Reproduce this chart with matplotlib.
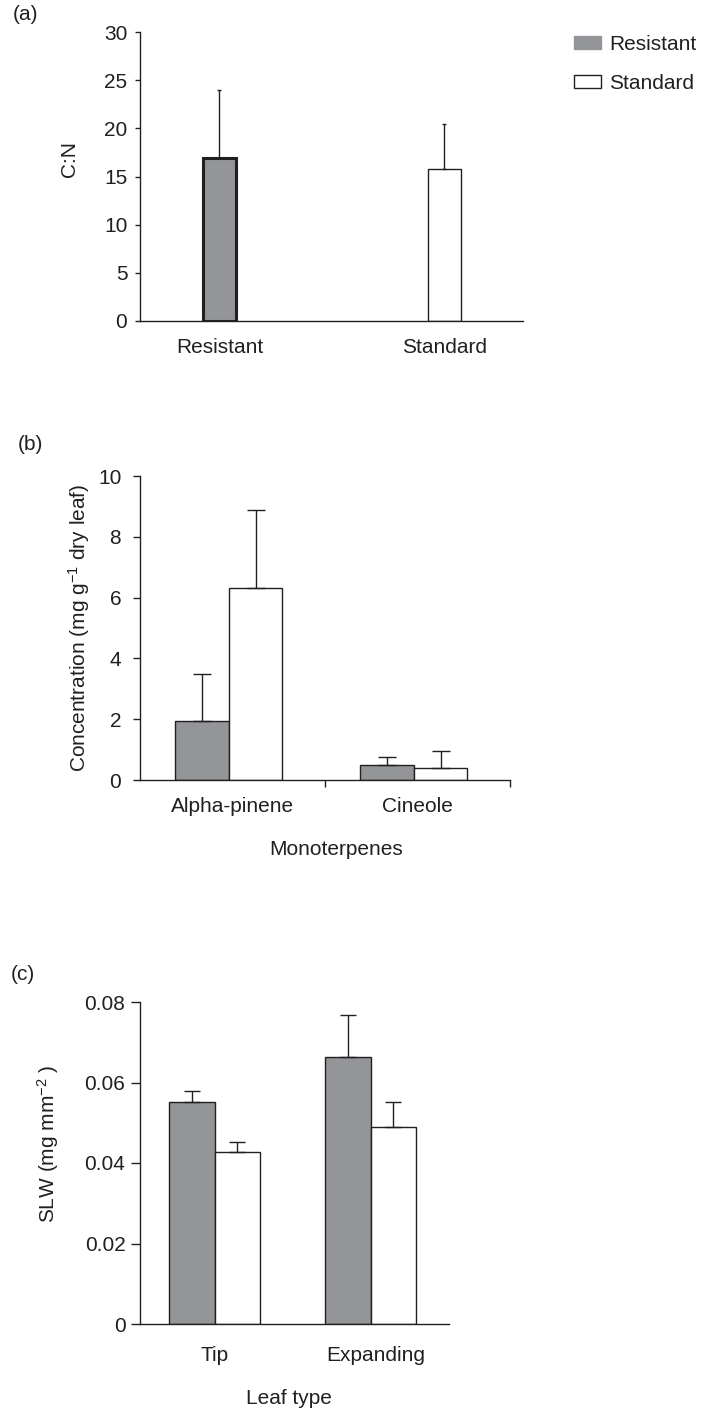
import numpy as np
import matplotlib.pyplot as plt
from matplotlib.patches import Patch

plt.rcParams['font.family'] = ['Liberation Sans', 'DejaVu Sans']
plt.rcParams['mathtext.fontset'] = 'custom'
plt.rcParams['mathtext.rm'] = 'Liberation Sans'
plt.rcParams['mathtext.it'] = 'Liberation Sans:italic'
plt.rcParams['font.size'] = 15

# -- dados
grupos = ['Resistant', 'Standard']

cn_media = [16.9, 15.8]
cn_erro = [7.1, 4.6]

mono_cat = ['Alpha-pinene', 'Cineole']
mono_res = [1.94, 0.49]
mono_res_erro = [1.55, 0.27]
mono_std = [6.32, 0.39]
mono_std_erro = [2.56, 0.56]

folha_cat = ['Tip', 'Expanding']
slw_res = [0.0552, 0.0663]
slw_res_erro = [0.0027, 0.0105]
slw_std = [0.0427, 0.0489]
slw_std_erro = [0.0025, 0.0063]

cinza = '#939598'
preto = '#231f20'
fs = 15

W, H = 714, 1409
fig = plt.figure(figsize=(W / 100, H / 100), dpi=100)


def eixo(x0, y_top, x1, y_bot):
    # posição em pixels -> fração da figura
    return fig.add_axes([x0 / W, 1 - y_bot / H, (x1 - x0) / W, (y_bot - y_top) / H])


def estilo(ax, tlen, tpad):
    for s in ['top', 'right']:
        ax.spines[s].set_visible(False)
    for s in ['left', 'bottom']:
        ax.spines[s].set_color(preto)
        ax.spines[s].set_linewidth(1.0)
    ax.tick_params(axis='y', direction='out', length=tlen, pad=tpad, width=1.0,
                   color=preto, labelcolor=preto, labelsize=fs)
    ax.tick_params(axis='x', which='major', length=0, labelcolor=preto, labelsize=fs)


# -- (a) C:N
ax1 = eixo(140, 32, 523, 321)
x = np.arange(2)
ax1.bar(x[0], cn_media[0], 0.147, color=cinza, edgecolor=preto, linewidth=2.2)
ax1.bar(x[1], cn_media[1], 0.147, color='white', edgecolor=preto, linewidth=1.0)
ax1.errorbar(x, cn_media, yerr=[np.zeros(2), cn_erro], fmt='none', ecolor=preto,
             elinewidth=1.0, capsize=1.6, capthick=1.0)
ax1.set_xlim(-0.353, 1.349)
ax1.set_ylim(0, 30)
ax1.set_yticks([0, 5, 10, 15, 20, 25, 30])
ax1.set_xticks(x)
ax1.set_xticklabels(grupos)
estilo(ax1, 3.6, 5.5)
ax1.tick_params(axis='x', pad=12)
ax1.set_ylabel('C:N', va='center', color=preto)
ax1.yaxis.set_label_coords(-0.183, 0.56)

fig.legend(handles=[Patch(facecolor=cinza, edgecolor=cinza, label='Resistant'),
                    Patch(facecolor='white', edgecolor=preto, linewidth=1.0, label='Standard')],
           loc='upper left', bbox_to_anchor=(574 / W, 1 - 35 / H), frameon=False,
           handlelength=1.3, handleheight=0.6, handletextpad=0.4, labelspacing=0.95,
           borderaxespad=0, borderpad=0, fontsize=fs, labelcolor=preto)

# -- (b) Monoterpenos
ax2 = eixo(140, 476, 510, 780)
x = np.arange(2)
larg = 0.29
desl = -0.02
ax2.bar(x + desl - larg / 2, mono_res, larg, color=cinza, edgecolor=preto, linewidth=1.0)
ax2.bar(x + desl + larg / 2, mono_std, larg, color='white', edgecolor=preto, linewidth=1.0)
ax2.errorbar(x + desl - larg / 2, mono_res, yerr=[np.zeros(2), mono_res_erro], fmt='none',
             ecolor=preto, elinewidth=1.0, capsize=6.5, capthick=1.0)
ax2.errorbar(x + desl + larg / 2, mono_std, yerr=[np.zeros(2), mono_std_erro], fmt='none',
             ecolor=preto, elinewidth=1.0, capsize=6.5, capthick=1.0)
ax2.set_xlim(-0.5, 1.5)
ax2.set_ylim(0, 10)
ax2.set_yticks([0, 2, 4, 6, 8, 10])
ax2.set_xticks(x)
ax2.set_xticklabels(mono_cat)
ax2.set_xticks([0.5, 1.5], minor=True)
estilo(ax2, 5.0, 8.5)
ax2.tick_params(axis='x', which='major', pad=12)
ax2.tick_params(axis='x', which='minor', direction='out', length=5, width=1.0, color=preto)
ax2.set_ylabel(r'Concentration (mg g$^{-1}$ dry leaf)', va='center', color=preto)
ax2.yaxis.set_label_coords(-0.165, 0.5)
ax2.set_xlabel('Monoterpenes', va='center', color=preto)
ax2.xaxis.set_label_coords(0.53, -0.227)

# -- (c) SLW
ax3 = eixo(140, 1002, 449, 1324)
x = np.arange(2)
larg = 0.29
ax3.bar(x - larg / 2, slw_res, larg, color=cinza, edgecolor=preto, linewidth=1.0)
ax3.bar(x + larg / 2, slw_std, larg, color='white', edgecolor=preto, linewidth=1.0)
ax3.errorbar(x - larg / 2, slw_res, yerr=[np.zeros(2), slw_res_erro], fmt='none',
             ecolor=preto, elinewidth=1.0, capsize=6.0, capthick=1.0)
ax3.errorbar(x + larg / 2, slw_std, yerr=[np.zeros(2), slw_std_erro], fmt='none',
             ecolor=preto, elinewidth=1.0, capsize=6.0, capthick=1.0)
ax3.set_xlim(-0.478, 1.503)
ax3.set_ylim(0, 0.08)
ax3.set_yticks([0, 0.02, 0.04, 0.06, 0.08])
ax3.set_yticklabels(['0', '0.02', '0.04', '0.06', '0.08'])
ax3.set_xticks([0, 1.035])
ax3.set_xticklabels(folha_cat)
estilo(ax3, 6.5, 4.0)
ax3.tick_params(axis='x', pad=16)
ax3.set_ylabel(r'SLW (mg mm$^{-2}$ )', va='center', color=preto)
ax3.yaxis.set_label_coords(-0.298, 0.56)
ax3.set_xlabel('Leaf type', va='center', color=preto)
ax3.xaxis.set_label_coords(0.483, -0.23)

# rótulos dos painéis
fig.text(26 / W, 1 - 15 / H, '(a)', ha='center', va='center', fontsize=fs, color=preto)
fig.text(30 / W, 1 - 445 / H, '(b)', ha='center', va='center', fontsize=fs, color=preto)
fig.text(23 / W, 1 - 975 / H, '(c)', ha='center', va='center', fontsize=fs, color=preto)

fig.savefig('out.png', dpi=100)
